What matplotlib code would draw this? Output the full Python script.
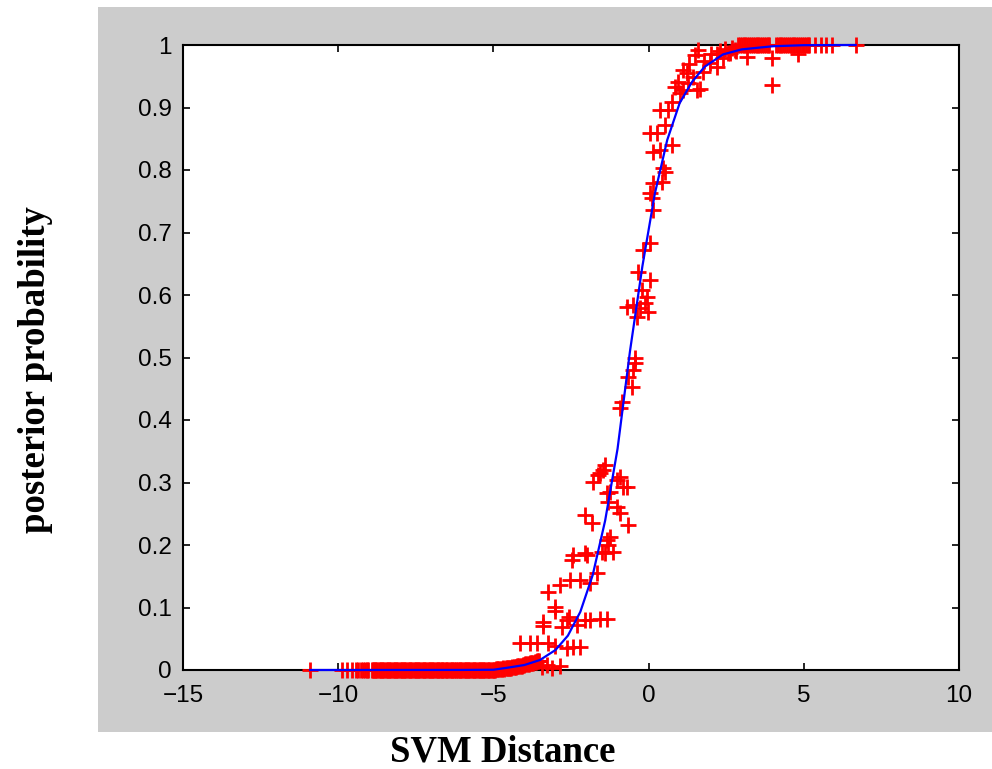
import numpy as np
import matplotlib
matplotlib.use('Agg')
import matplotlib.pyplot as plt
from matplotlib.patches import Rectangle

# fitted sigmoid
curve_x = [-10.9, -6.0, -5.0, -4.5, -4.0, -3.5, -3.0, -2.6, -2.2, -1.8, -1.4, -1.0,
           -0.6, -0.2, 0.2, 0.6, 1.0, 1.4, 1.8, 2.4, 3.0, 4.0, 5.0, 6.67]
curve_y = [0.0, 0.0001, 0.0004, 0.004, 0.008, 0.016, 0.032, 0.055, 0.093, 0.152, 0.239, 0.354,
           0.510, 0.646, 0.762, 0.848, 0.907, 0.941, 0.965, 0.985, 0.993, 0.998, 0.9997, 1.0]

# samples near 0 (negative side)
low_x = [-10.9, -9.89, -9.73, -9.57, -9.43, -9.35, -9.28, -9.2, -9.13, -9.06, -9.03,
         -8.92, -8.85, -8.78, -8.70, -8.63, -8.55, -8.47, -8.41, -8.32, -8.25, -8.18, -8.10,
         -8.02, -7.96, -7.87, -7.80, -7.72, -7.66, -7.57, -7.50, -7.43, -7.35, -7.27, -7.21,
         -7.12, -7.05, -6.97, -6.90, -6.83, -6.75, -6.67, -6.61, -6.52, -6.45, -6.37, -6.31,
         -6.22, -6.15, -6.07, -6.01, -5.92, -5.85, -5.78, -5.70, -5.62, -5.55, -5.48, -5.40,
         -5.32, -5.26, -5.17, -5.10, -5.02, -4.95, -4.87, -4.81, -4.72, -4.65, -4.57, -4.50,
         -4.43, -4.35, -4.27, -4.21, -4.12, -4.05, -3.97, -3.90, -3.83, -3.75, -3.67, -3.61,
         -3.52, -3.42, -3.26, -3.10, -2.86]
low_y = [0.0] * 65 + [0.001, 0.001, 0.002, 0.002, 0.003, 0.003, 0.004, 0.005, 0.005,
                      0.006, 0.007, 0.008, 0.009, 0.010, 0.011, 0.012, 0.013, 0.014, 0.015,
                      0.005, 0.008, 0.004, 0.006]

# more samples in the dense band near 0
low2_x = [-8.88, -8.81, -8.74, -8.66, -8.59, -8.51, -8.44, -8.36, -8.29, -8.21,
          -8.14, -8.06, -7.99, -7.91, -7.84, -7.76, -7.69, -7.61, -7.54, -7.46,
          -7.39, -7.31, -7.24, -7.16, -7.09, -7.01, -6.94, -6.86, -6.79, -6.71,
          -6.64, -6.56, -6.49, -6.41, -6.34, -6.26, -6.19, -6.11, -6.04, -5.96,
          -5.89, -5.81, -5.74, -5.66, -5.59, -5.51, -5.44, -5.36, -5.29, -5.21,
          -5.14, -5.06, -4.99,
          -4.91, -4.84, -4.76, -4.69, -4.61, -4.54, -4.46, -4.39, -4.31, -4.24,
          -4.16, -4.09, -4.01, -3.94, -3.86, -3.79, -3.71, -3.64, -3.56]
low2_y = [0.0] * 53 + [0.001, 0.002, 0.002, 0.003, 0.003, 0.004, 0.004, 0.005, 0.005,
                       0.006, 0.007, 0.007, 0.008, 0.009, 0.010, 0.011, 0.012, 0.013, 0.014]

# samples near 1 (positive side)
high_x = [2.2, 2.3, 2.45, 2.55, 2.7, 2.8, 3.16, 3.97, 3.97, 4.8,
          2.88, 2.94, 3.0, 3.06, 3.12, 3.18, 3.24, 3.3, 3.36, 3.42, 3.48, 3.54, 3.6, 3.66,
          3.72, 3.78, 3.84, 3.89, 4.10, 4.16, 4.22, 4.28, 4.34, 4.40, 4.46, 4.52, 4.58,
          4.64, 4.70, 4.76, 4.82, 4.88, 4.94, 5.0, 5.06, 5.12, 5.17, 5.36, 5.54, 5.72,
          5.9, 6.67]
high_y = [0.985, 0.99, 0.993, 0.988, 0.995, 0.99, 0.981, 0.979, 0.936, 0.985] + [1.0] * 42

# samples in the transition region
mid_x = [0.47, 0.15, 0.37, 0.74, 0.26, 0.53, 0.64, 0.74, 1.01, 1.12, 1.28, 1.55, 1.44,
         1.76, 1.49, 1.60, 2.19, 1.98, 2.41, 2.62, 2.78, 1.23, 0.96, 0.85, 0.04, 0.37,
         1.66, 1.8, 2.0, 1.3, 1.1,
         0.53, 0.42, 0.15, 0.04, 0.10, 0.15, 0.05, -0.17, -0.33, 0.05, -0.22, -0.06,
         -0.71, -0.49, -0.28, -0.01, -0.38, -0.12, -0.44, -0.44,
         -0.49, -0.65, -0.54, -0.87, -0.92, -1.46, -1.62, -1.78, -0.92, -0.82, -1.03,
         -1.24, -1.30, -1.03, -0.92, -2.05, -1.83, -0.65, -1.24, -1.30, -1.14, -1.51,
         -2.43, -2.05, -1.40, -1.57, -0.71, -1.35,
         -1.35, -2.48, -2.0, -1.40, -1.67, -2.53, -2.85, -2.21, -1.89, -3.23, -3.02,
         -3.0, -3.39, -3.39, -2.64, -2.55, -2.8, -2.05, -1.89, -1.57, -1.35, -2.3,
         -4.14, -3.82, -3.6, -3.23, -3.0, -2.64, -2.43, -2.21]
mid_y = [0.803, 0.829, 0.832, 0.84, 0.859, 0.872, 0.896, 0.909, 0.923, 0.928, 0.939,
         0.928, 0.949, 0.957, 0.984, 0.992, 0.965, 0.971, 0.979, 0.987, 0.992, 0.955,
         0.941, 0.933, 0.859, 0.896, 0.93, 0.975, 0.985, 0.97, 0.96,
         0.797, 0.781, 0.779, 0.763, 0.755, 0.736, 0.683, 0.672, 0.637, 0.624, 0.608,
         0.597, 0.581, 0.584, 0.579, 0.573, 0.565, 0.587, 0.499, 0.491,
         0.48, 0.469, 0.453, 0.429, 0.419, 0.32, 0.312, 0.301, 0.309, 0.293, 0.304,
         0.285, 0.269, 0.261, 0.251, 0.248, 0.235, 0.232, 0.213, 0.2, 0.189, 0.189,
         0.184, 0.187, 0.328, 0.315, 0.293, 0.283,
         0.208, 0.176, 0.184, 0.187, 0.155, 0.144, 0.136, 0.144, 0.139, 0.125, 0.101,
         0.095, 0.077, 0.070, 0.080, 0.085, 0.069, 0.080, 0.080, 0.082, 0.082, 0.072,
         0.043, 0.043, 0.043, 0.043, 0.038, 0.035, 0.037, 0.037]

x_ticks = [-15, -10, -5, 0, 5, 10]
y_ticks = [0, 0.1, 0.2, 0.3, 0.4, 0.5, 0.6, 0.7, 0.8, 0.9, 1]
y_ticklabels = ['0', '0.1', '0.2', '0.3', '0.4', '0.5', '0.6', '0.7', '0.8', '0.9', '1']

pts_x = low_x + low2_x + mid_x + high_x
pts_y = low_y + low2_y + mid_y + high_y

fig = plt.figure(figsize=(9.92, 7.69), dpi=100)
fig.patches.append(Rectangle((98 / 992, 37 / 769), 1 - 98 / 992, 725 / 769,
                             transform=fig.transFigure, facecolor='#cccccc',
                             edgecolor='none', zorder=-10))

ax = fig.add_axes([183 / 992, 99 / 769, 776 / 992, 625 / 769])
ax.set_zorder(5)
ax.set_facecolor('white')

ax.plot(pts_x, pts_y, linestyle='none', marker='+', color='red', markersize=12,
        markeredgewidth=2.0, clip_on=False, zorder=3)
ax.plot(curve_x, curve_y, color='blue', linewidth=1.6, zorder=4, clip_on=False)

ax.set_xlim(-15, 10)
ax.set_ylim(0, 1)
ax.set_xticks(x_ticks)
ax.set_yticks(y_ticks)
ax.set_yticklabels(y_ticklabels)

for s in ax.spines.values():
    s.set_linewidth(1.5)
    s.set_zorder(2.5)
ax.tick_params(direction='in', length=5, width=1.2, top=True, right=True,
               labelsize=17.5, pad=8)
ax.tick_params(axis='x', pad=11)
for lab in ax.get_xticklabels() + ax.get_yticklabels():
    lab.set_family('Liberation Sans')

fig.text(503 / 992, 17 / 769, 'SVM Distance', ha='center', va='center',
         family='Liberation Serif', weight='bold', fontsize=26.5)
fig.text(36 / 992, 399 / 769, 'posterior probability', ha='center', va='center',
         rotation=90, family='Liberation Serif', weight='bold', fontsize=26.5)

plt.savefig('out.png', dpi=100)
